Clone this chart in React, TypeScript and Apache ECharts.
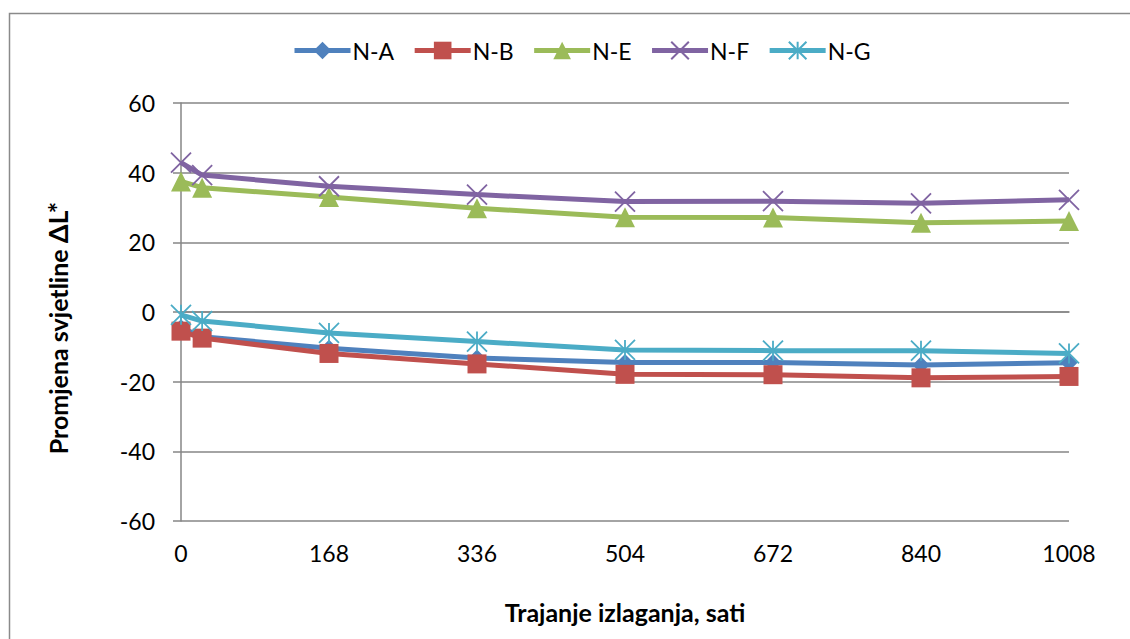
import React, { useEffect, useRef } from "react";
import * as echarts from "echarts";

const hours = [0, 24, 168, 336, 504, 672, 840, 1008];
const seriesNames = ["N-A", "N-B", "N-E", "N-F", "N-G"];
const nA = [-4.5, -7.1, -10.4, -13.2, -14.5, -14.5, -15.2, -14.6];
const nB = [-5.5, -7.5, -11.9, -14.9, -17.9, -18.0, -18.9, -18.5];
const nE = [37.5, 35.7, 33.0, 29.8, 27.2, 27.1, 25.6, 26.1];
const nF = [42.9, 39.3, 36.1, 33.7, 31.7, 31.8, 31.2, 32.2];
const nG = [-0.8, -2.6, -6.0, -8.5, -10.9, -11.1, -11.1, -11.9];
const colors = ["#4F81BD", "#C0504D", "#9BBB59", "#8064A2", "#4BACC6"];
const xLabels = ["0", "168", "336", "504", "672", "840", "1008"];

const FONT = "Lato, 'Open Sans', sans-serif";

export default function App() {
  const ref = useRef<HTMLDivElement>(null);
  useEffect(() => {
    if (!ref.current) return;
    const chart = echarts.init(ref.current, null, { renderer: "svg" });
    const values = [nA, nB, nE, nF, nG];
    const symbols = [
      "diamond",
      "rect",
      "triangle",
      "path://M0,0L10,10M10,0L0,10",
      "path://M5,0L5,10M0,0L10,10M10,0L0,10",
    ];
    const sizes = [17, 19, 20, 20, 20];
    const series = seriesNames.map((name, i) => ({
      name,
      type: "line",
      data: hours.map((h, j) => [h, values[i][j]]),
      symbol: symbols[i],
      symbolSize: sizes[i],
      showAllSymbol: true,
      lineStyle: { width: 5, color: colors[i] },
      itemStyle: {
        color: colors[i],
        borderColor: colors[i],
        borderWidth: i >= 3 ? 1.8 : 0,
      },
      z: 2 + i,
    }));
    chart.setOption({
      animation: false,
      backgroundColor: "#fff",
      textStyle: { fontFamily: FONT },
      graphic: [
        {
          type: "rect",
          shape: { x: 9.5, y: 13.5, width: 1200, height: 700 },
          style: { fill: "none", stroke: "#8a8a8a", lineWidth: 1.5 },
          silent: true,
        },
      ],
      legend: {
        top: 34,
        left: 287,
        itemWidth: 56,
        itemHeight: 22,
        itemGap: 18,
        lineStyle: { width: 5 },
        textStyle: { fontFamily: FONT, fontSize: 23, color: "#000", padding: [0, 0, 0, -3] },
        data: seriesNames,
      },
      grid: { left: 181, right: 61, top: 103, bottom: 118, containLabel: false },
      xAxis: {
        type: "value",
        min: 0,
        max: 1008,
        interval: 168,
        name: "Trajanje izlaganja, sati",
        nameLocation: "middle",
        nameGap: 78,
        nameTextStyle: { fontFamily: FONT, fontSize: 25, fontWeight: "bold", color: "#000" },
        axisLine: { show: true, lineStyle: { color: "#868686", width: 1.5 } },
        axisTick: { show: false },
        splitLine: { show: false },
        axisLabel: {
          fontFamily: FONT,
          fontSize: 23,
          color: "#000",
          margin: 20,
          formatter: (v: number) => {
            const s = String(Math.round(v));
            return xLabels.includes(s) ? s : "";
          },
        },
      },
      yAxis: {
        type: "value",
        min: -60,
        max: 60,
        interval: 20,
        name: "Promjena svjetline {d|ΔL*}",
        nameLocation: "middle",
        nameGap: 110,
        nameTextStyle: {
          fontFamily: FONT,
          fontSize: 25,
          fontWeight: "bold",
          color: "#000",
          padding: [0, 32, 0, 0],
          rich: {
            d: { fontFamily: FONT, fontSize: 27, fontWeight: "bold", color: "#000" },
          },
        },
        axisLine: { show: true, lineStyle: { color: "#868686", width: 1.5 } },
        axisTick: { show: true, length: 8, lineStyle: { color: "#868686", width: 1.5 } },
        splitLine: { show: true, lineStyle: { color: "#868686", width: 1.5 } },
        axisLabel: { fontFamily: FONT, fontSize: 23, color: "#000", margin: 26 },
      },
      series,
    });
    return () => chart.dispose();
  }, []);
  return (
    <div
      ref={ref}
      style={{ position: "absolute", left: 0, top: 0, width: 1130, height: 639 }}
    />
  );
}
